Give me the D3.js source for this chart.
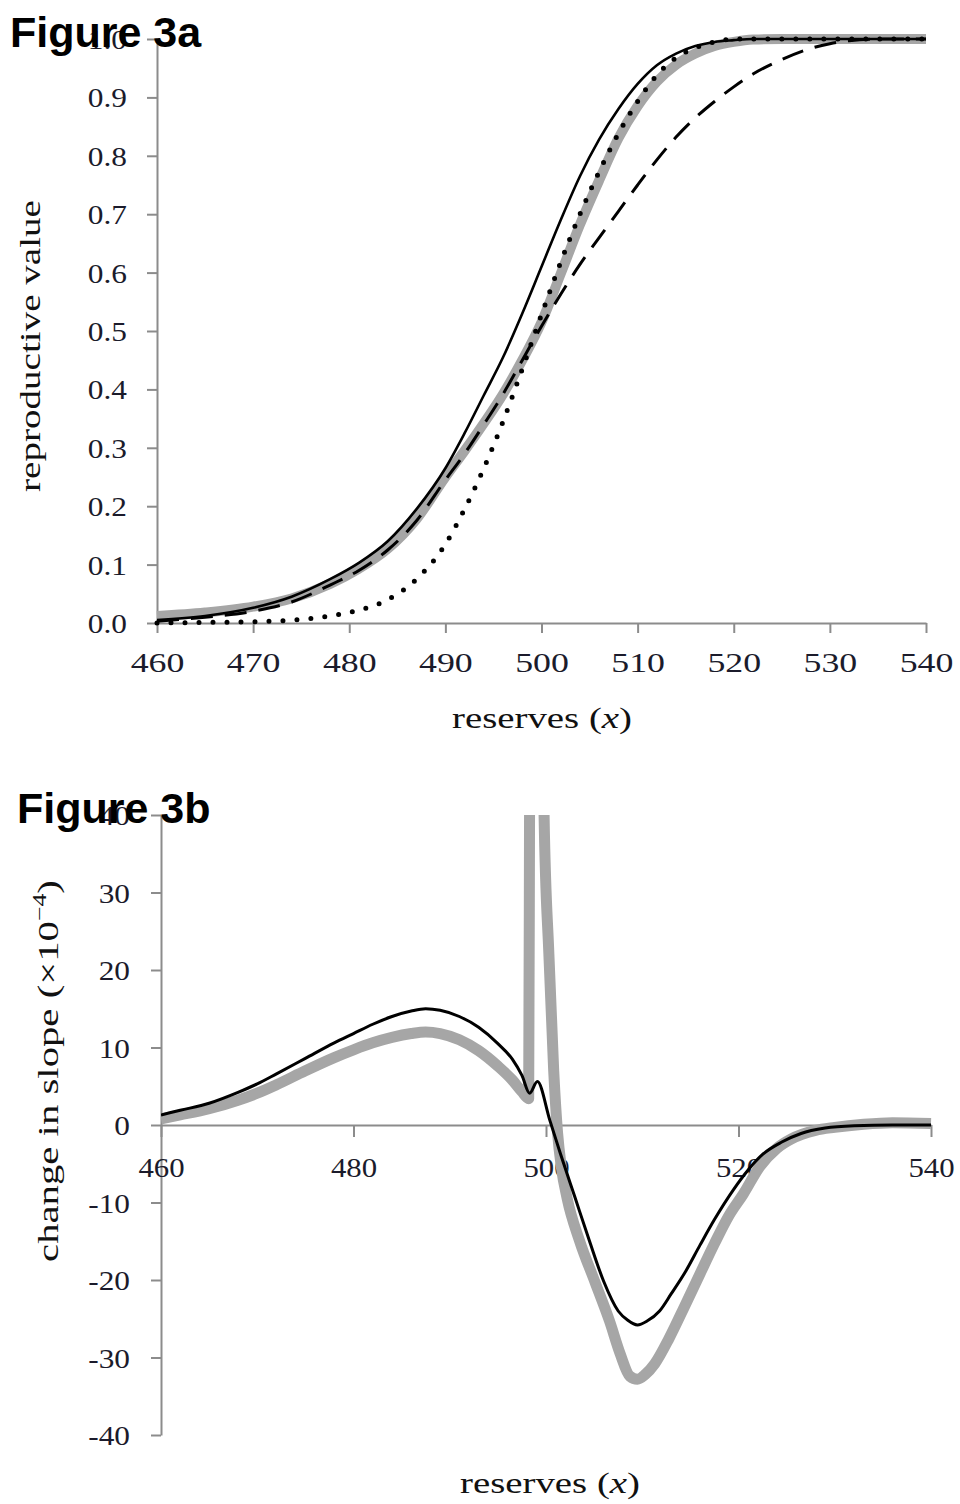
<!DOCTYPE html>
<html>
<head>
<meta charset="utf-8">
<script src="https://cdn.jsdelivr.net/npm/d3@7"></script>
<style>
  body { margin: 0; background: #fff; }
  svg { display: block; }
</style>
</head>
<body>
<svg id="chart" width="960" height="1504"></svg>
<script>
// ---------- Figure 3a: reproductive value against reserves ----------
const reservesA = [460,465,470,474,478,481,484,487,490,492,494,496,498,500,502,504,506,508,510,512,514,516,518,520,522,525,528,530,532,536,540];
const solidA  = [0.005,0.012,0.026,0.045,0.075,0.103,0.14,0.195,0.265,0.325,0.39,0.455,0.53,0.61,0.69,0.765,0.828,0.88,0.923,0.955,0.975,0.988,0.995,0.998,1,1,1,1,1,1,1];
const grayA   = [0.012,0.018,0.028,0.042,0.067,0.093,0.127,0.178,0.25,0.295,0.342,0.392,0.45,0.515,0.598,0.682,0.758,0.83,0.885,0.927,0.956,0.975,0.988,0.995,0.999,1,1,1,1,1,1];
const dottedA = [0,0.001,0.002,0.005,0.012,0.022,0.04,0.075,0.135,0.195,0.265,0.345,0.435,0.528,0.618,0.70,0.773,0.838,0.893,0.938,0.968,0.985,0.995,1,1,1,1,1,1,1,1];
const dashedA = [0.003,0.01,0.02,0.036,0.065,0.09,0.125,0.175,0.245,0.29,0.34,0.392,0.45,0.508,0.563,0.614,0.66,0.705,0.75,0.793,0.832,0.865,0.893,0.918,0.94,0.965,0.984,0.992,0.997,1,1];
const ticksXA = [460,470,480,490,500,510,520,530,540];
const ticksYA = [0,0.1,0.2,0.3,0.4,0.5,0.6,0.7,0.8,0.9,1.0];

// ---------- Figure 3b: change in slope (x10^-4) against reserves ----------
const reservesGrayB = [460,462,465,468,470,472,475,478,480,482,484,486,487.5,489,491,493,495,496.5,497.5,498.2,498.3,498.9,499.8,500.3,500.8,501.2,501.6,502.2,503.5,505.1,506.6,507.7,508.7,509.5,510.3,511.3,512.8,514.4,516,517.5,519,520.5,522.2,524,525.5,528,530,533,536,540];
const slopeGrayB    = [0.8,1.3,2.1,3.2,4.1,5.2,7.0,8.7,9.7,10.6,11.3,11.8,12.0,11.8,11.0,9.6,7.6,5.8,4.3,3.4,45,160,40,22,7,-1,-5.5,-9.5,-15,-20.3,-25.3,-29.5,-32.4,-32.8,-32.2,-30.8,-27.5,-23.4,-19.2,-15.3,-11.7,-8.9,-5.4,-3.0,-1.8,-0.7,-0.3,0.1,0.3,0.2];
const reservesBlackB = [460,462,465,468,470,472,475,478,480,482,484,486,487.5,489,491,493,495,496.5,497.5,498.3,499.1,500.4,501.5,503,504.5,506,507.5,508.5,509.5,510.5,511.8,513,514.5,516,517.5,519.5,521,522.5,524.5,526.5,529,532,536,540];
const slopeBlackB    = [1.3,1.9,2.8,4.2,5.3,6.6,8.6,10.6,11.8,13.0,14.0,14.7,15.0,14.8,14.0,12.6,10.5,8.5,6.4,4.1,5.6,0.6,-3.7,-9.3,-14.9,-20.2,-24.0,-25.2,-25.8,-25.3,-24.0,-21.8,-18.9,-15.5,-12.2,-8.3,-5.8,-3.8,-2.2,-1.1,-0.4,-0.1,0,0];
const ticksXB = [460,480,500,520,540];
const ticksYB = [-40,-30,-20,-10,0,10,20,30,40];

const svg = d3.select("#chart");
const serif = "'Liberation Serif', 'Times New Roman', serif";
const sans = "'Liberation Sans', Arial, sans-serif";
const axisGray = "#8c8c8c";
const labelInk = "#1b1b2b";
const bandGray = "#a6a6a6";

// ---------- scales ----------
const xA = d3.scaleLinear().domain([460, 540]).range([157, 926]);
const yA = d3.scaleLinear().domain([0, 1]).range([623, 39]);
const xB = d3.scaleLinear().domain([460, 540]).range([161, 931]);
const yB = d3.scaleLinear().domain([-40, 40]).range([1435, 815]);

function styleAxis(g) {
  g.selectAll(".domain").attr("stroke", axisGray).attr("stroke-width", 2);
  g.selectAll(".tick line").attr("stroke", axisGray).attr("stroke-width", 2);
  g.selectAll(".tick text")
    .attr("font-family", serif).attr("font-size", 28).attr("fill", labelInk);
}

// bottom-axis labels: baseline offset and horizontal stretch of the glyphs
function bottomLabels(g, baseline, sx) {
  g.selectAll(".tick text")
    .attr("x", 0).attr("y", 0).attr("dy", null)
    .attr("text-anchor", "middle")
    .attr("transform", `translate(0,${baseline}) scale(${sx},1)`);
}
// left-axis labels: right edge offset and horizontal stretch
function leftLabels(g, off, sx) {
  g.selectAll(".tick text")
    .attr("x", 0).attr("dy", "0.34em")
    .attr("text-anchor", "end")
    .attr("transform", `translate(${-off},0) scale(${sx},1)`);
}

// text drawn in a group, stretched along its baseline to a set width
function stretchedText(parent, x, y, rotate, width, build) {
  const g = parent.append("g").attr("transform", `translate(${x},${y}) rotate(${rotate})`);
  const t = g.append("text").attr("text-anchor", "middle")
    .attr("font-family", serif).attr("font-size", 30).attr("fill", "#111");
  build(t);
  const w = t.node().getComputedTextLength();
  t.attr("transform", `scale(${width / w},1)`);
  return g;
}

function reservesLabel(t) {
  t.append("tspan").text("reserves (");
  t.append("tspan").attr("font-style", "italic").text("x");
  t.append("tspan").text(")");
}

// ================= Figure 3a =================
const gA = svg.append("g");

const axYA = gA.append("g").attr("transform", `translate(${xA(460)},0)`)
  .call(d3.axisLeft(yA).tickValues(ticksYA).tickFormat(d3.format(".1f")).tickSize(10).tickSizeOuter(0));
styleAxis(axYA); leftLabels(axYA, 30, 1.12);

const axXA = gA.append("g").attr("transform", `translate(0,${yA(0)})`)
  .call(d3.axisBottom(xA).tickValues(ticksXA).tickFormat(d3.format("d")).tickSize(10).tickSizeOuter(0));
styleAxis(axXA); bottomLabels(axXA, 49, 1.28);

const pairsA = arr => reservesA.map((r, i) => [r, arr[i]]);
const lineA = d3.line().x(d => xA(d[0])).y(d => yA(d[1])).curve(d3.curveMonotoneX);

gA.append("path").attr("d", lineA(pairsA(grayA)))
  .attr("fill", "none").attr("stroke", bandGray).attr("stroke-width", 10)
  .attr("stroke-linejoin", "round").attr("stroke-linecap", "butt");
gA.append("path").attr("d", lineA(pairsA(dashedA)))
  .attr("fill", "none").attr("stroke", "#000").attr("stroke-width", 3)
  .attr("stroke-dasharray", "22,12");
gA.append("path").attr("d", lineA(pairsA(dottedA)))
  .attr("fill", "none").attr("stroke", "#000").attr("stroke-width", 5)
  .attr("stroke-linecap", "round").attr("stroke-dasharray", "0,14");
gA.append("path").attr("d", lineA(pairsA(solidA)))
  .attr("fill", "none").attr("stroke", "#000").attr("stroke-width", 2.6);

stretchedText(gA, 40, 346, -90, 292, t => t.text("reproductive value"));
stretchedText(gA, 542, 728, 0, 180, reservesLabel);

gA.append("text").attr("x", 10).attr("y", 47)
  .attr("font-family", sans).attr("font-weight", "bold").attr("font-size", 43)
  .attr("fill", "#000").text("Figure 3a");

// ================= Figure 3b =================
const gB = svg.append("g");

const axYB = gB.append("g").attr("transform", `translate(${xB(460)},0)`)
  .call(d3.axisLeft(yB).tickValues(ticksYB).tickFormat(d => String(d)).tickSize(10).tickSizeOuter(0));
styleAxis(axYB); leftLabels(axYB, 31, 1.12);

const axXB = gB.append("g").attr("transform", `translate(0,${yB(0)})`)
  .call(d3.axisBottom(xB).tickValues(ticksXB).tickFormat(d3.format("d")).tickSize(12).tickSizeOuter(0));
styleAxis(axXB); bottomLabels(axXB, 52, 1.1);

svg.append("defs").append("clipPath").attr("id", "plotB")
  .append("rect").attr("x", xB(460)).attr("y", yB(40))
  .attr("width", xB(540) - xB(460) + 10).attr("height", yB(-40) - yB(40));

const lineB = d3.line().x(d => xB(d[0])).y(d => yB(d[1])).curve(d3.curveMonotoneX);
const plotB = gB.append("g").attr("clip-path", "url(#plotB)");

plotB.append("path").attr("d", lineB(reservesGrayB.map((r, i) => [r, slopeGrayB[i]])))
  .attr("fill", "none").attr("stroke", bandGray).attr("stroke-width", 11)
  .attr("stroke-linejoin", "round");
plotB.append("path").attr("d", lineB(reservesBlackB.map((r, i) => [r, slopeBlackB[i]])))
  .attr("fill", "none").attr("stroke", "#000").attr("stroke-width", 3)
  .attr("stroke-linejoin", "round");

stretchedText(gB, 58, 1071, -90, 382, t => {
  t.append("tspan").text("change in slope (×10");
  t.append("tspan").attr("font-size", 19).attr("dy", -12).text("−4");
  t.append("tspan").attr("dy", 12).text(")");
});
stretchedText(gB, 550, 1493, 0, 180, reservesLabel);

gB.append("text").attr("x", 17).attr("y", 823)
  .attr("font-family", sans).attr("font-weight", "bold").attr("font-size", 43)
  .attr("fill", "#000").text("Figure 3b");
</script>
</body>
</html>
